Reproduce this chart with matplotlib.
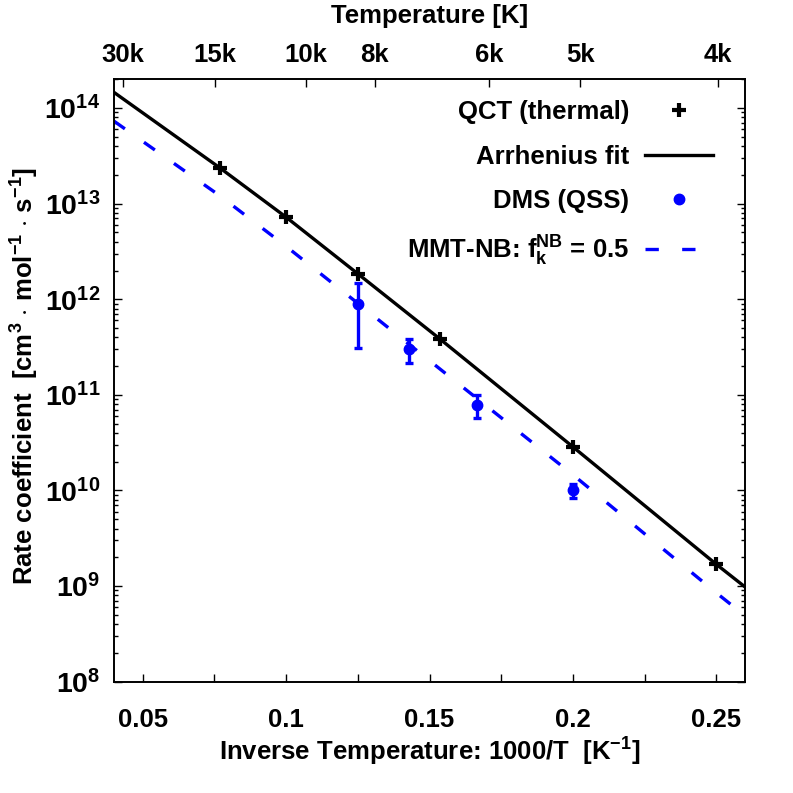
import numpy as np
import matplotlib
matplotlib.use("Agg")
import matplotlib.pyplot as plt
from matplotlib.ticker import LogLocator, NullFormatter, MultipleLocator

plt.rcParams['font.family'] = ['Liberation Sans', 'DejaVu Sans']
plt.rcParams['mathtext.fontset'] = 'custom'
plt.rcParams['mathtext.rm'] = 'Liberation Sans:bold'
plt.rcParams['mathtext.bf'] = 'Liberation Sans:bold'
plt.rcParams['mathtext.it'] = 'Liberation Sans:bold:italic'
plt.rcParams['mathtext.default'] = 'bf'

# QCT thermal rates (1000/T, k)
qct_x = [0.0769, 0.1, 0.125, 0.1538, 0.2, 0.25]
qct_k = [2.37e13, 7.23e12, 1.85e12, 3.81e11, 2.86e10, 1.69e9]

# Arrhenius fit
fit_x = [0.04, 0.0769, 0.1, 0.125, 0.1538, 0.2, 0.25, 0.26]
fit_k = [1.46e14, 2.37e13, 7.23e12, 1.85e12, 3.81e11, 2.86e10, 1.69e9, 9.8e8]

# DMS (QSS) with error bars
dms_x = [0.125, 0.1429, 0.1667, 0.2]
dms_k = [8.85e11, 2.99e11, 7.78e10, 1.0e10]
dms_lo = [3.09e11, 2.17e11, 5.74e10, 8.25e9]
dms_hi = [1.48e12, 3.81e11, 9.91e10, 1.18e10]

# MMT-NB model, f_k^NB = 0.5
mmt_x = [0.04, 0.0769, 0.1, 0.125, 0.1538, 0.2, 0.25, 0.26]
mmt_k = [7.3e13, 1.21e13, 3.58e12, 9.08e11, 1.85e11, 1.46e10, 8.5e8, 4.9e8]

x_ticks = [0.05, 0.1, 0.15, 0.2, 0.25]
x_labels = ["0.05", "0.1", "0.15", "0.2", "0.25"]
y_ticks = [1e8, 1e9, 1e10, 1e11, 1e12, 1e13, 1e14]
y_labels = [r"$\mathbf{10^{%d}}$" % e for e in range(8, 15)]
top_T = [30000, 15000, 10000, 8000, 6000, 5000, 4000]
top_labels = ["30k", "15k", "10k", "8k", "6k", "5k", "4k"]

W = 793.0
FS = 18.5
fig = plt.figure(figsize=(7.93, 7.93), dpi=100)
ax = fig.add_axes([114 / W, 1 - 681.7 / W, 631 / W, 602.4 / W])

fit_line, = ax.plot(fit_x, fit_k, color='black', lw=2.4, zorder=3)
mmt_line, = ax.plot(mmt_x, mmt_k, color='blue', lw=2.4, dashes=(4, 7), zorder=2)
qct_pts, = ax.plot(qct_x, qct_k, ls='none', marker='+', ms=10, mew=3,
                   color='black', zorder=4)
yerr = [np.array(dms_k) - np.array(dms_lo), np.array(dms_hi) - np.array(dms_k)]
dms = ax.errorbar(dms_x, dms_k, yerr=yerr, fmt='o', color='blue', ms=7.5,
                  elinewidth=2.4, capsize=3, capthick=2.4, zorder=5)

ax.set_yscale('log')
ax.set_xlim(0.04, 0.26)
ax.set_ylim(1e8, 2e14)
ax.set_xticks(x_ticks)
ax.set_xticklabels(x_labels, fontweight='bold', fontsize=FS)
ax.xaxis.set_minor_locator(MultipleLocator(0.025))
ax.set_yticks(y_ticks)
ax.set_yticklabels(y_labels, fontsize=20.5)
ax.yaxis.set_minor_locator(LogLocator(base=10, subs=range(2, 10)))
ax.yaxis.set_minor_formatter(NullFormatter())
ax.tick_params(which='both', direction='in', right=True, top=False, width=1)
ax.tick_params(which='major', length=6)
ax.tick_params(axis='y', which='minor', length=3)
ax.tick_params(axis='x', which='minor', length=6)
ax.tick_params(axis='x', pad=19)
ax.tick_params(axis='y', pad=10)
for s in ax.spines.values():
    s.set_linewidth(1.2)

ax.set_xlabel(r"Inverse Temperature: 1000/T  [K$^{-1}$]", fontsize=FS,
              fontweight='bold', labelpad=3)
fig.text(25 / W, 1 - 376 / W,
         r"Rate coefficient  [cm$^{3}$ $\cdot$ mol$^{-1}$ $\cdot$ s$^{-1}$]",
         fontsize=FS, fontweight='bold', rotation=90, ha='center', va='center')

ax2 = ax.twiny()
ax2.set_xlim(0.03, 0.26)
ax2.set_xticks([1000.0 / t for t in top_T])
ax2.set_xticklabels(top_labels, fontweight='bold', fontsize=FS)
ax2.tick_params(direction='in', length=6, width=1, pad=9)
for s in ax2.spines.values():
    s.set_linewidth(1.2)
fig.text(429.5 / W, 1 - 23 / W, "Temperature [K]", fontsize=FS,
         fontweight='bold', ha='center', va='baseline')

handles = [qct_pts, fit_line, dms[0], mmt_line]
labels = ["QCT (thermal)", "Arrhenius fit", "DMS (QSS)",
          r"MMT-NB: $\mathbf{f_{k}^{NB}}$ = 0.5"]
ax2.legend(handles, labels, loc='upper right',
           bbox_to_anchor=(713 / W, 1 - 100 / W), bbox_transform=fig.transFigure,
           frameon=False, markerfirst=False, numpoints=1, handlelength=2.65,
           handletextpad=0.6, labelspacing=0.8, borderpad=0, borderaxespad=0,
           prop=dict(weight='bold', size=FS))

fig.savefig("out.png", dpi=100)
